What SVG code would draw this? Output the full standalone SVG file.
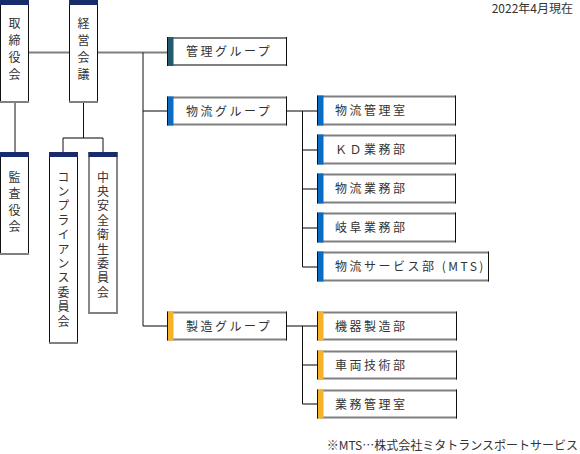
<svg xmlns="http://www.w3.org/2000/svg" width="580" height="454" viewBox="0 0 580 454" xml:lang="ja" lang="ja">
<style>
text{font-family:"Noto Sans CJK JP","Noto Sans",sans-serif;font-size:12px;fill:#333}
.box{fill:#fff;stroke:none}
.tb{stroke:#808080;stroke-width:2}
.lr{stroke:#111;stroke-width:1}
.h{stroke:#808080;stroke-width:2;fill:none}
.v{stroke:#111;stroke-width:1;fill:none}
.vt{writing-mode:vertical-rl}
.lab{letter-spacing:2.5px}
.navy{fill:#182c6c}
.teal{fill:#235a6e}
.blue{fill:#0b6cc3}
.orng{fill:#f6b22a}
</style>
<rect width="580" height="454" fill="#fff"/>
<g id="connectors">
<path class="h" d="M28 52.5H69M97 52.5H167M143 111H167M143 326H167M63 138H103M287 111H317M302.5 150H317M302.5 189H317M302.5 228H317M302.5 267H317M287 326H317M302.5 365H317M302.5 404H317"/>
<path class="v" d="M143 52.5V326M15 103V152M83.5 103V138M63 138V152M103 138V152M302.5 111V267M302.5 326V404"/>
</g>
<g id="n-torishimariyakukai">
<rect class="box" x="0.5" y="0" width="28" height="103"/>
<path class="lr" d="M0.5 0V103M28.5 0V103"/><path class="tb" d="M0 102H29"/>
<rect class="navy" x="0" y="0" width="29" height="5"/>
<text class="vt" x="14.5" y="17" style="letter-spacing:5px">取締役会</text>
</g>
<g id="n-keieikaigi">
<rect class="box" x="69.5" y="0" width="28" height="103"/>
<path class="lr" d="M69.5 0V103M97.5 0V103"/><path class="tb" d="M69 102H98"/>
<rect class="navy" x="69" y="0" width="29" height="5"/>
<text class="vt" x="83.5" y="17" style="letter-spacing:5px">経営会議</text>
</g>
<g id="n-kansayakukai">
<rect class="box" x="0.5" y="152" width="28" height="103"/>
<path class="lr" d="M0.5 152V255M28.5 152V255"/><path class="tb" d="M0 254H29"/>
<rect class="navy" x="0" y="152" width="29" height="5"/>
<text class="vt" x="14.5" y="171" style="letter-spacing:4.5px">監査役会</text>
</g>
<g id="n-compliance">
<rect class="box" x="49.5" y="152" width="28" height="192"/>
<path class="lr" d="M49.5 152V344M77.5 152V344"/><path class="tb" d="M49 343H78"/>
<rect class="navy" x="49" y="152" width="29" height="5"/>
<text class="vt" x="63.5" y="171" style="letter-spacing:2.4px">コンプライアンス委員会</text>
</g>
<g id="n-anzeneisei">
<rect class="box" x="89" y="152" width="28" height="162"/>
<path class="lr" d="M89 152V314M117 152V314"/><path class="tb" d="M88.5 313H117.5"/>
<rect class="navy" x="88.5" y="152" width="29" height="5"/>
<text class="vt" x="103" y="171" style="letter-spacing:2.4px">中央安全衛生委員会</text>
</g>
<g id="n-kanri">
<rect class="box" x="167" y="38" width="120" height="28"/>
<path class="tb" d="M167 38H287M167 65H287"/><path class="lr" d="M167.5 37V66M286.5 37V66"/>
<rect class="teal" x="168" y="37" width="5.5" height="29"/>
<text class="lab" x="186" y="56">管理グループ</text>
</g>
<g id="n-butsuryu">
<rect class="box" x="167" y="97" width="120" height="28"/>
<path class="tb" d="M167 97.5H287M167 124.5H287"/><path class="lr" d="M167.5 96.5V125.5M286.5 96.5V125.5"/>
<rect class="blue" x="168" y="96.5" width="5.5" height="29"/>
<text class="lab" x="186" y="115.5">物流グループ</text>
</g>
<g id="n-seizo">
<rect class="box" x="167" y="312" width="120" height="28"/>
<path class="tb" d="M167 312.5H287M167 339.5H287"/><path class="lr" d="M167.5 311.5V340.5M286.5 311.5V340.5"/>
<rect class="orng" x="168" y="311.5" width="5.5" height="29"/>
<text class="lab" x="186" y="330.5">製造グループ</text>
</g>
<g id="n-b1">
<rect class="box" x="317" y="96" width="139" height="29"/>
<path class="tb" d="M317 96.5H456M317 124.5H456"/><path class="lr" d="M317.5 95.5V125.5M455.5 95.5V125.5"/>
<rect class="blue" x="318" y="95.5" width="5.5" height="30"/>
<text class="lab" x="335" y="115">物流管理室</text>
</g>
<g id="n-b2">
<rect class="box" x="317" y="135" width="139" height="29"/>
<path class="tb" d="M317 135.5H456M317 163.5H456"/><path class="lr" d="M317.5 134.5V164.5M455.5 134.5V164.5"/>
<rect class="blue" x="318" y="134.5" width="5.5" height="30"/>
<text class="lab" x="335" y="154">ＫＤ業務部</text>
</g>
<g id="n-b3">
<rect class="box" x="317" y="174" width="139" height="29"/>
<path class="tb" d="M317 174.5H456M317 202.5H456"/><path class="lr" d="M317.5 173.5V203.5M455.5 173.5V203.5"/>
<rect class="blue" x="318" y="173.5" width="5.5" height="30"/>
<text class="lab" x="335" y="193">物流業務部</text>
</g>
<g id="n-b4">
<rect class="box" x="317" y="213" width="139" height="29"/>
<path class="tb" d="M317 213.5H456M317 241.5H456"/><path class="lr" d="M317.5 212.5V242.5M455.5 212.5V242.5"/>
<rect class="blue" x="318" y="212.5" width="5.5" height="30"/>
<text class="lab" x="335" y="232">岐阜業務部</text>
</g>
<g id="n-b5">
<rect class="box" x="317" y="252" width="172" height="29"/>
<path class="tb" d="M317 252.5H489M317 280.5H489"/><path class="lr" d="M317.5 251.5V281.5M488.5 251.5V281.5"/>
<rect class="blue" x="318" y="251.5" width="5.5" height="30"/>
<text class="lab" x="335" y="271">物流サービス部 (MTS)</text>
</g>
<g id="n-s1">
<rect class="box" x="317" y="312" width="140" height="28"/>
<path class="tb" d="M317 312.5H457M317 339.5H457"/><path class="lr" d="M317.5 311.5V340.5M456.5 311.5V340.5"/>
<rect class="orng" x="318" y="311.5" width="5.5" height="29"/>
<text class="lab" x="335" y="330.5">機器製造部</text>
</g>
<g id="n-s2">
<rect class="box" x="317" y="351" width="140" height="28"/>
<path class="tb" d="M317 351.5H457M317 378.5H457"/><path class="lr" d="M317.5 350.5V379.5M456.5 350.5V379.5"/>
<rect class="orng" x="318" y="350.5" width="5.5" height="29"/>
<text class="lab" x="335" y="369.5">車両技術部</text>
</g>
<g id="n-s3">
<rect class="box" x="317" y="390" width="140" height="28"/>
<path class="tb" d="M317 390.5H457M317 417.5H457"/><path class="lr" d="M317.5 389.5V418.5M456.5 389.5V418.5"/>
<rect class="orng" x="318" y="389.5" width="5.5" height="29"/>
<text class="lab" x="335" y="408.5">業務管理室</text>
</g>
<text x="573" y="13" text-anchor="end">2022年4月現在</text>
<text x="578" y="450" text-anchor="end">※MTS…株式会社ミタトランスポートサービス</text>
</svg>
